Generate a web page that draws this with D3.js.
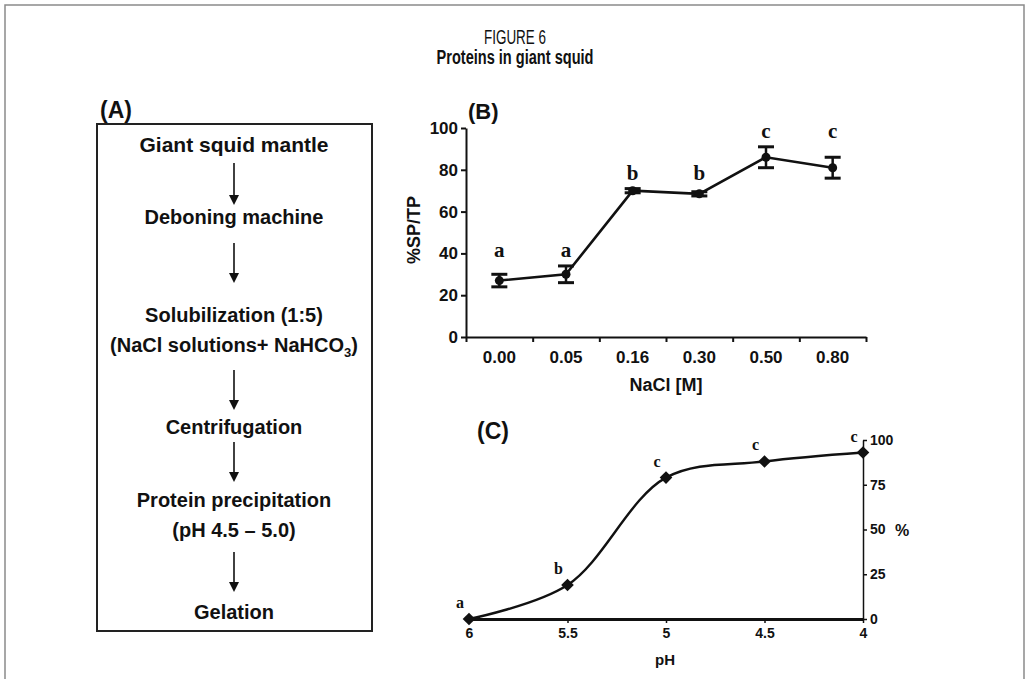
<!DOCTYPE html>
<html lang="en">
<head>
<meta charset="UTF-8" />
<title>Proteins in giant squid</title>
<style>
  body { margin: 0; background: #fff; }
  svg { display: block; }
  .sans { font-family: "Liberation Sans", Arial, sans-serif; }
  .serif { font-family: "Liberation Serif", "Times New Roman", serif; }
  .axis path, .axis line { stroke: #111; }
  .axis text { fill: #111; font-family: "Liberation Sans", Arial, sans-serif; font-weight: bold; }
</style>
</head>
<body>
<svg id="fig" width="1029" height="679"></svg>

<script src="https://d3js.org/d3.v7.min.js"></script>
<script>
// Panel B: soluble protein / total protein vs NaCl
const naclLevels = ["0.00", "0.05", "0.16", "0.30", "0.50", "0.80"];
const solubleMean = [27, 30, 70, 68.5, 86, 81];
const solubleErr = [3, 4, 1, 1, 5, 5];
const solubleGroup = ["a", "a", "b", "b", "c", "c"];
const yTicksB = [0, 20, 40, 60, 80, 100];

// Panel C: protein recovery vs pH
const phLevels = [6, 5.5, 5, 4.5, 4];
const recovery = [0, 19, 79, 88, 93];
const recoveryGroup = ["a", "b", "c", "c", "c"];
const yTicksC = [0, 25, 50, 75, 100];

// Panel A: process flow
const flowSteps = [
  ["Giant squid mantle"],
  ["Deboning machine"],
  ["Solubilization (1:5)", "(NaCl solutions+ NaHCO|3|)"],
  ["Centrifugation"],
  ["Protein precipitation", "(pH 4.5 \u2013 5.0)"],
  ["Gelation"]
];

const svg = d3.select("#fig");
const ink = "#111";

// outer frame + heading
svg.append("rect")
  .attr("x", 5).attr("y", 5).attr("width", 1019).attr("height", 700)
  .attr("fill", "none").attr("stroke", "#8a8a8a").attr("stroke-width", 1.5);

// condensed face is not installed, so squeeze the sans to the same width
svg.append("text").attr("class", "sans")
  .attr("x", 515).attr("y", 44)
  .attr("text-anchor", "middle")
  .attr("textLength", 62).attr("lengthAdjust", "spacingAndGlyphs")
  .style("font-size", "20px")
  .attr("fill", ink)
  .text("FIGURE 6");
svg.append("text").attr("class", "sans")
  .attr("x", 515).attr("y", 64)
  .attr("text-anchor", "middle")
  .attr("textLength", 157).attr("lengthAdjust", "spacingAndGlyphs")
  .style("font-size", "20px").style("font-weight", "bold")
  .attr("fill", ink)
  .text("Proteins in giant squid");

// ---------- (A) flow chart ----------
const gA = svg.append("g").attr("class", "sans");
gA.append("text")
  .attr("x", 100).attr("y", 118)
  .style("font-size", "23px").style("font-weight", "bold").attr("fill", ink)
  .text("(A)");
gA.append("rect")
  .attr("x", 97).attr("y", 124).attr("width", 275).attr("height", 507)
  .attr("fill", "none").attr("stroke", "#222").attr("stroke-width", 2);

const boxCx = 234;
const stepY = [145, 217, 315, 427, 500, 612];   // centre of first line of each step
const lineGap = 30;
const arrows = [[163, 205], [243, 283], [370, 410], [442, 482], [552, 592]];

flowSteps.forEach((lines, i) => {
  lines.forEach((ln, j) => {
    const t = gA.append("text")
      .attr("x", boxCx).attr("y", stepY[i] + j * lineGap + 7)
      .attr("text-anchor", "middle")
      .style("font-size", i === 0 ? "21px" : "20px")
      .style("font-weight", "bold")
      .attr("fill", ink);
    // "|x|" marks a subscript piece
    ln.split("|").forEach((part, k) => {
      const sp = t.append("tspan").text(part);
      if (k === 1) sp.attr("dy", 5).style("font-size", "13px");
      if (k === 2) sp.attr("dy", -5);
    });
  });
});

arrows.forEach(([y1, y2]) => {
  gA.append("line")
    .attr("x1", boxCx).attr("x2", boxCx).attr("y1", y1).attr("y2", y2 - 8)
    .attr("stroke", ink).attr("stroke-width", 1.6);
  gA.append("path")
    .attr("d", `M${boxCx - 5},${y2 - 10}L${boxCx + 5},${y2 - 10}L${boxCx},${y2}Z`)
    .attr("fill", ink);
});

// ---------- (B) solubility vs NaCl ----------
const xB = d3.scaleBand().domain(naclLevels).range([466, 866]);
const yB = d3.scaleLinear().domain([0, 100]).range([337, 128]);
const gB = svg.append("g");

gB.append("text").attr("class", "sans")
  .attr("x", 468).attr("y", 119)
  .style("font-size", "22px").style("font-weight", "bold").attr("fill", ink)
  .text("(B)");

gB.append("g").attr("class", "axis")
  .attr("transform", "translate(466,0)")
  .call(d3.axisLeft(yB).tickValues(yTicksB).tickSize(5).tickSizeOuter(0).tickPadding(3))
  .call(g => g.selectAll("path, line").attr("stroke-width", 2))
  .call(g => g.selectAll("text").style("font-size", "17px"));

// category boundary ticks
const bounds = d3.scaleLinear().domain([0, naclLevels.length]).range(xB.range());
gB.append("g").attr("class", "axis")
  .attr("transform", "translate(0,337)")
  .call(d3.axisBottom(bounds).ticks(naclLevels.length).tickSize(5).tickSizeOuter(0).tickFormat(""))
  .call(g => g.selectAll("path, line").attr("stroke-width", 2));
gB.append("g").attr("class", "axis")
  .attr("transform", "translate(0,337)")
  .call(d3.axisBottom(xB).tickSize(0).tickPadding(14))
  .call(g => g.select(".domain").remove())
  .call(g => g.selectAll("text").style("font-size", "17px"));

gB.append("text").attr("class", "sans")
  .attr("x", 666).attr("y", 391).attr("text-anchor", "middle")
  .style("font-size", "18px").style("font-weight", "bold").attr("fill", ink)
  .text("NaCl [M]");
gB.append("text").attr("class", "sans")
  .attr("transform", "translate(420,230) rotate(-90)").attr("text-anchor", "middle")
  .style("font-size", "18px").style("font-weight", "bold").attr("fill", ink)
  .text("%SP/TP");

const ptsB = naclLevels.map((k, i) => ({ k, m: solubleMean[i], e: solubleErr[i], g: solubleGroup[i] }));
const cx = d => xB(d.k) + xB.bandwidth() / 2;

// letters of one group share the height above the tallest bar in the group
const groupTop = d3.rollup(ptsB, v => d3.max(v, d => d.m + d.e), d => d.g);

gB.append("path")
  .datum(ptsB)
  .attr("fill", "none").attr("stroke", ink).attr("stroke-width", 2.6)
  .attr("d", d3.line().x(cx).y(d => yB(d.m)));

const eb = gB.selectAll(".eb").data(ptsB).join("g");
eb.append("line")
  .attr("x1", cx).attr("x2", cx)
  .attr("y1", d => yB(d.m - d.e)).attr("y2", d => yB(d.m + d.e))
  .attr("stroke", ink).attr("stroke-width", 2.5);
[-1, 1].forEach(s => {
  eb.append("line")
    .attr("x1", d => cx(d) - 8).attr("x2", d => cx(d) + 8)
    .attr("y1", d => yB(d.m + s * d.e)).attr("y2", d => yB(d.m + s * d.e))
    .attr("stroke", ink).attr("stroke-width", 3);
});
eb.append("circle")
  .attr("cx", cx).attr("cy", d => yB(d.m)).attr("r", 4.5).attr("fill", ink);
eb.append("text").attr("class", "serif")
  .attr("x", cx).attr("y", d => yB(groupTop.get(d.g)) - 9)
  .attr("text-anchor", "middle")
  .style("font-size", "21px").style("font-weight", "bold").attr("fill", ink)
  .text(d => d.g);

// ---------- (C) recovery vs pH ----------
const xC = d3.scaleLinear().domain([6, 4]).range([469, 863]);
const yC = d3.scaleLinear().domain([0, 100]).range([619, 440]);
const gC = svg.append("g");

gC.append("text").attr("class", "sans")
  .attr("x", 477).attr("y", 439)
  .style("font-size", "23px").style("font-weight", "bold").attr("fill", ink)
  .text("(C)");

gC.append("g").attr("class", "axis")
  .attr("transform", "translate(0,619)")
  .call(d3.axisBottom(xC).tickValues(phLevels).tickSize(4).tickSizeOuter(0).tickPadding(5).tickFormat(d => d))
  .call(g => g.select(".domain").attr("stroke-width", 3))
  .call(g => g.selectAll("line").attr("stroke-width", 1.5))
  .call(g => g.selectAll("text").style("font-size", "14px"));

gC.append("g").attr("class", "axis")
  .attr("transform", "translate(863,0)")
  .call(d3.axisRight(yC).tickValues(yTicksC).tickSize(4).tickSizeOuter(0).tickPadding(3))
  .call(g => g.selectAll("path, line").attr("stroke-width", 1.5))
  .call(g => g.selectAll("text").style("font-size", "14px"));

gC.append("text").attr("class", "sans")
  .attr("x", 665).attr("y", 665).attr("text-anchor", "middle")
  .style("font-size", "15px").style("font-weight", "bold").attr("fill", ink)
  .text("pH");
gC.append("text").attr("class", "sans")
  .attr("x", 895).attr("y", 536)
  .style("font-size", "16px").style("font-weight", "bold").attr("fill", ink)
  .text("%");

const ptsC = phLevels.map((p, i) => ({ p, v: recovery[i], g: recoveryGroup[i] }));

gC.append("path")
  .datum(ptsC)
  .attr("fill", "none").attr("stroke", ink).attr("stroke-width", 2.4)
  .attr("d", d3.line().x(d => xC(d.p)).y(d => yC(d.v)).curve(d3.curveCatmullRom.alpha(0.5)));

gC.selectAll(".dia").data(ptsC).join("path")
  .attr("transform", d => `translate(${xC(d.p)},${yC(d.v)}) rotate(45)`)
  .attr("d", d3.symbol(d3.symbolSquare, 80))
  .attr("fill", ink);

gC.selectAll(".lbl").data(ptsC).join("text")
  .attr("class", "serif")
  .attr("x", d => xC(d.p) - 9).attr("y", d => yC(d.v) - 11)
  .attr("text-anchor", "middle")
  .style("font-size", "16px").style("font-weight", "bold").attr("fill", ink)
  .text(d => d.g);
</script>
</body>
</html>
